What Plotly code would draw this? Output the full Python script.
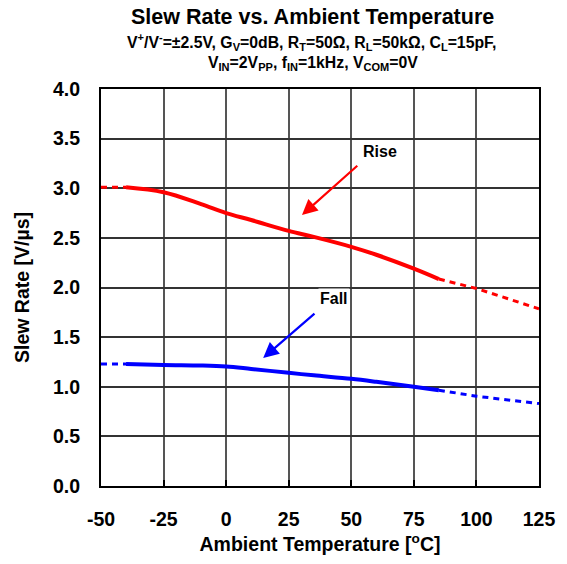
import plotly.graph_objects as go

# ---- data ----
temp_solid = [-40, -25, -10, 0, 10, 25, 35, 50, 60, 75, 85]
rise_solid = [3.01, 2.96, 2.84, 2.75, 2.68, 2.57, 2.51, 2.41, 2.33, 2.19, 2.085]
fall_solid = [1.23, 1.22, 1.215, 1.205, 1.18, 1.14, 1.115, 1.08, 1.05, 1.0, 0.965]

temp_low = [-50, -40]
rise_low = [3.01, 3.01]
fall_low = [1.23, 1.23]

temp_high = [85, 100, 125]
rise_high = [2.085, 1.99, 1.785]
fall_high = [0.965, 0.905, 0.83]

x_ticks = [-50, -25, 0, 25, 50, 75, 100, 125]
y_ticks = [0.0, 0.5, 1.0, 1.5, 2.0, 2.5, 3.0, 3.5, 4.0]

RED = "#ff0000"
BLUE = "#0000ff"
FONT = "Liberation Sans, Arial, sans-serif"
DASH = "6px,5px"

fig = go.Figure()
fig.add_trace(go.Scatter(x=temp_low, y=rise_low, mode="lines",
                         line=dict(color=RED, width=3, dash=DASH), showlegend=False))
fig.add_trace(go.Scatter(x=temp_high, y=rise_high, mode="lines",
                         line=dict(color=RED, width=3, dash=DASH), showlegend=False))
fig.add_trace(go.Scatter(x=temp_low, y=fall_low, mode="lines",
                         line=dict(color=BLUE, width=3, dash=DASH), showlegend=False))
fig.add_trace(go.Scatter(x=temp_high, y=fall_high, mode="lines",
                         line=dict(color=BLUE, width=3, dash=DASH), showlegend=False))
fig.add_trace(go.Scatter(x=temp_solid, y=rise_solid, mode="lines", line_shape="spline",
                         line=dict(color=RED, width=4), showlegend=False))
fig.add_trace(go.Scatter(x=temp_solid, y=fall_solid, mode="lines", line_shape="spline",
                         line=dict(color=BLUE, width=4), showlegend=False))

annots = [
    dict(text="<b>Slew Rate vs. Ambient Temperature</b>", x=0.484, y=1.182,
         font=dict(size=21.5)),
    dict(text="<b>V<sup>+</sup>/V<sup>-</sup>=±2.5V, G<sub>V</sub>=0dB, R<sub>T</sub>=50Ω, "
              "R<sub>L</sub>=50kΩ, C<sub>L</sub>=15pF,</b>", x=0.48, y=1.119,
         font=dict(size=15.8)),
    dict(text="<b>V<sub>IN</sub>=2V<sub>PP</sub>, f<sub>IN</sub>=1kHz, V<sub>COM</sub>=0V</b>",
         x=0.485, y=1.063, font=dict(size=15.8)),
]
for a in annots:
    fig.add_annotation(xref="paper", yref="paper", showarrow=False,
                       xanchor="center", yanchor="middle", **a)

# labels and arrows
fig.add_annotation(x=61.4, y=3.37, text="<b>Rise</b>", showarrow=False,
                   bgcolor="white", font=dict(size=16, color="black"))
fig.add_annotation(x=43.1, y=1.885, text="<b>Fall</b>", showarrow=False,
                   bgcolor="white", font=dict(size=16, color="black"))
fig.add_annotation(x=30.3, y=2.73, ax=53.0, ay=3.24, axref="x", ayref="y",
                   text="", showarrow=True, arrowhead=2, arrowsize=1.4,
                   arrowwidth=2.2, arrowcolor=RED)
fig.add_annotation(x=14.8, y=1.29, ax=35.9, ay=1.75, axref="x", ayref="y",
                   text="", showarrow=True, arrowhead=2, arrowsize=1.4,
                   arrowwidth=2.2, arrowcolor=BLUE)

fig.update_layout(
    width=567, height=564,
    margin=dict(l=101, r=26, t=89, b=76),
    paper_bgcolor="white", plot_bgcolor="white",
    font=dict(family=FONT, color="black"),
)
fig.update_xaxes(
    range=[-50, 125], tickvals=x_ticks, ticktext=[f"<b>{v}</b>" for v in x_ticks],
    showgrid=True, gridcolor="#555555", gridwidth=1.5,
    showline=True, linecolor="black", linewidth=2, mirror=True,
    ticks="inside", ticklen=6, tickcolor="black", tickwidth=1.5,
    tickfont=dict(size=19.5), ticklabelstandoff=15,
    title=dict(text="<b>Ambient Temperature [<sup>o</sup>C]</b>", font=dict(size=19.5), standoff=8),
    zeroline=False,
)
fig.update_yaxes(
    range=[0, 4.0], tickvals=y_ticks, ticktext=[f"<b>{v:.1f}</b>" for v in y_ticks],
    showgrid=True, gridcolor="#333333", gridwidth=1.5,
    showline=True, linecolor="black", linewidth=2, mirror=True,
    ticks="", tickfont=dict(size=19.5), ticklabelstandoff=15,
    title=dict(text="<b>Slew Rate [V/µs]</b>", font=dict(size=19.5), standoff=18),
    zeroline=False,
)

fig.write_html("out.html")
